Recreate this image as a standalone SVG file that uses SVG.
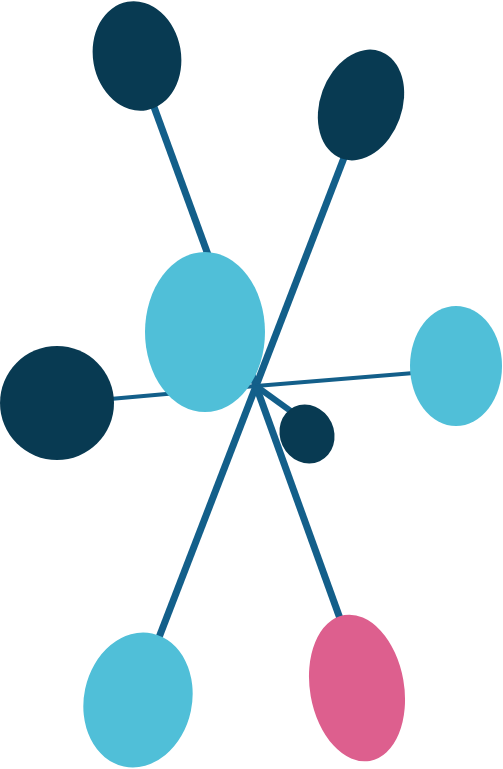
<svg xmlns="http://www.w3.org/2000/svg" width="503" height="769" viewBox="0 0 503 769">
<style>
.c{stroke:#135f8a;stroke-linecap:butt;fill:none}
.dark{fill:#083a52}
.light{fill:#50bfd8}
.pink{fill:#dd5f8e}
</style>
<rect width="503" height="769" fill="#ffffff"/>
<g id="connectors">
<line class="c" x1="256" y1="386" x2="150" y2="96" stroke-width="7"/>
<line class="c" x1="256" y1="386" x2="347" y2="150" stroke-width="7"/>
<line class="c" x1="256" y1="386" x2="158" y2="640" stroke-width="7"/>
<line class="c" x1="256" y1="386" x2="110" y2="399" stroke-width="4"/>
<line class="c" x1="256" y1="386" x2="414" y2="373" stroke-width="4"/>
<line class="c" x1="256" y1="386" x2="292" y2="412" stroke-width="6"/>
<line class="c" x1="256" y1="386" x2="342" y2="624" stroke-width="7"/>
</g>
<g id="node-top-left"><ellipse class="dark" cx="137" cy="56" rx="44" ry="55" transform="rotate(-10 137 56)"/></g>
<g id="node-top-right"><ellipse class="dark" cx="361" cy="105" rx="41" ry="57" transform="rotate(20 361 105)"/></g>
<g id="node-center"><ellipse class="light" cx="205" cy="332" rx="60" ry="80"/></g>
<g id="node-left"><ellipse class="dark" cx="57" cy="403" rx="57" ry="57"/></g>
<g id="node-right"><ellipse class="light" cx="456" cy="366" rx="46" ry="60"/></g>
<g id="node-small"><ellipse class="dark" cx="307" cy="434" rx="27" ry="30" transform="rotate(-25 307 434)"/></g>
<g id="node-bottom-left"><ellipse class="light" cx="138" cy="700" rx="54" ry="68" transform="rotate(12 138 700)"/></g>
<g id="node-bottom-right"><ellipse class="pink" cx="357" cy="688" rx="47" ry="74" transform="rotate(-10 357 688)"/></g>
</svg>
